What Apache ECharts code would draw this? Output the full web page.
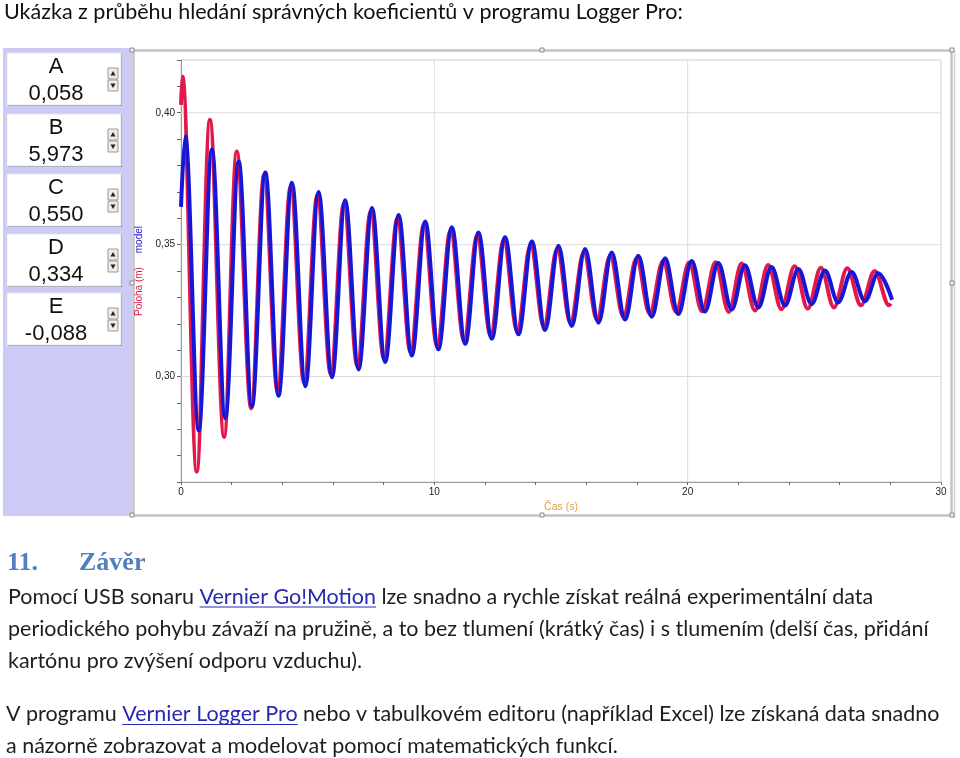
<!DOCTYPE html>
<html><head><meta charset="utf-8">
<script src="https://cdn.jsdelivr.net/npm/echarts@6/dist/echarts.min.js"></script>
<style>html,body{margin:0;padding:0;background:#fff}#c{width:960px;height:758px}</style>
</head><body><div id="c"></div>
<script>
// ---------- data ----------
// measured position (red): extremum points, time (s) and position (m)
const timeRed = [0.00, 0.06, 0.62, 1.14, 1.70, 2.20, 2.77, 3.28, 3.81, 4.33, 4.86, 5.38, 5.91, 6.43, 6.96, 7.49, 8.01, 8.54, 9.06, 9.59, 10.11, 10.64, 11.17, 11.69, 12.22, 12.74, 13.27, 13.80, 14.32, 14.85, 15.37, 15.90, 16.42, 16.94, 17.46, 17.98, 18.50, 19.03, 19.54, 20.06, 20.57, 21.10, 21.62, 22.13, 22.66, 23.18, 23.70, 24.22, 24.74, 25.26, 25.77, 26.30, 26.84, 27.38, 27.95, 28.02];
const posRed = [0.4030, 0.4137, 0.2639, 0.3973, 0.2771, 0.3853, 0.2879, 0.3765, 0.2945, 0.3723, 0.2975, 0.3688, 0.3009, 0.3656, 0.3039, 0.3627, 0.3067, 0.3600, 0.3092, 0.3576, 0.3115, 0.3554, 0.3136, 0.3534, 0.3155, 0.3516, 0.3172, 0.3500, 0.3188, 0.3484, 0.3203, 0.3471, 0.3215, 0.3459, 0.3227, 0.3447, 0.3238, 0.3438, 0.3245, 0.3432, 0.3247, 0.3433, 0.3245, 0.3428, 0.3250, 0.3423, 0.3255, 0.3418, 0.3257, 0.3412, 0.3262, 0.3410, 0.3270, 0.3400, 0.3270, 0.3276];
// model (blue): extremum points
const timeModel = [0.00, 0.17, 0.70, 1.22, 1.75, 2.28, 2.80, 3.33, 3.85, 4.38, 4.91, 5.43, 5.96, 6.48, 7.01, 7.54, 8.06, 8.59, 9.11, 9.64, 10.16, 10.69, 11.22, 11.74, 12.27, 12.79, 13.32, 13.85, 14.37, 14.90, 15.42, 15.95, 16.48, 17.00, 17.53, 18.05, 18.58, 19.11, 19.63, 20.16, 20.68, 21.21, 21.74, 22.26, 22.79, 23.31, 23.84, 24.37, 24.89, 25.42, 25.94, 26.47, 27.00, 27.52, 28.07];
const posModel = [0.3643, 0.3911, 0.2795, 0.3861, 0.2843, 0.3815, 0.2887, 0.3773, 0.2927, 0.3735, 0.2963, 0.3700, 0.2997, 0.3668, 0.3027, 0.3639, 0.3055, 0.3612, 0.3080, 0.3588, 0.3103, 0.3566, 0.3124, 0.3546, 0.3143, 0.3528, 0.3160, 0.3512, 0.3176, 0.3496, 0.3191, 0.3483, 0.3204, 0.3470, 0.3216, 0.3458, 0.3227, 0.3448, 0.3237, 0.3438, 0.3246, 0.3430, 0.3254, 0.3422, 0.3262, 0.3415, 0.3269, 0.3408, 0.3275, 0.3402, 0.3281, 0.3396, 0.3286, 0.3391, 0.3291];
const xTickLabels = [0, 10, 20, 30];
const yTickLabels = [0.30, 0.35, 0.40];
const gridX = [10, 20];
const gridY = [0.30, 0.35, 0.40];
const paramNames = ['A', 'B', 'C', 'D', 'E'];
const paramValues = ['0,058', '5,973', '0,550', '0,334', '-0,088'];

// ---------- text ----------
const titleText = 'Ukázka z průběhu hledání správných koeficientů v programu Logger Pro:';
const headingNum = '11.';
const headingText = 'Závěr';
const bodyLines = [
  [{t: 'Pomocí USB sonaru '}, {t: 'Vernier Go!Motion', link: true}, {t: ' lze snadno a rychle získat reálná experimentální data'}],
  [{t: 'periodického pohybu závaží na pružině, a to bez tlumení (krátký čas) i s tlumením (delší čas, přidání'}],
  [{t: 'kartónu pro zvýšení odporu vzduchu).'}],
  [{t: 'V programu '}, {t: 'Vernier Logger Pro', link: true}, {t: ' nebo v tabulkovém editoru (například Excel) lze získaná data snadno'}],
  [{t: 'a názorně zobrazovat a modelovat pomocí matematických funkcí.'}]
];

// ---------- layout ----------
const RED = '#e3184a', BLUE = '#1616d6', LINK = '#2828b0', TXT = '#1e1e1e';
const FAMILY = 'Lato, "Open Sans", sans-serif';
const cv = document.createElement('canvas').getContext('2d');
function tw(t, f) { cv.font = f; return cv.measureText(t).width; }
function join(segs) { return segs.map(s => s.t).join(''); }

const els = [];
function txt(x, y, text, font, fill, align) {
  els.push({type: 'text', x: x, y: y, silent: true,
    style: {text: text, font: font, fill: fill, align: align || 'left', verticalAlign: 'middle', textAlign: align || 'left', textVerticalAlign: 'middle'}});
}

// left lavender panel
els.push({type: 'rect', shape: {x: 3, y: 48, width: 129, height: 468}, style: {fill: '#cbcbf6'}});
// graph panel border
els.push({type: 'rect', shape: {x: 133.5, y: 50.5, width: 818, height: 465}, style: {fill: 'none', stroke: '#c4c4c4', lineWidth: 2.5}});
els.push({type: 'line', shape: {x1: 954.5, y1: 50, x2: 954.5, y2: 518}, style: {stroke: '#d4d4d4', lineWidth: 1.5}});
// handles
[[132, 50], [542, 50], [952, 50], [132, 283], [952, 283], [132, 515], [542, 515], [952, 515]].forEach(p => {
  els.push({type: 'rect', shape: {x: p[0] - 2, y: p[1] - 2, width: 4, height: 4}, style: {fill: '#f2f2f2', stroke: '#8a8a8a', lineWidth: 1}});
});

// parameter boxes
const boxTops = [53, 114, 174, 234, 293];
paramNames.forEach((n, i) => {
  const top = boxTops[i];
  els.push({type: 'rect', shape: {x: 8, y: top + 1, width: 114, height: 52}, style: {fill: '#7e7e98'}});
  els.push({type: 'rect', shape: {x: 7, y: top, width: 114, height: 52}, style: {fill: '#ffffff', stroke: '#e4e4ee', lineWidth: 1}});
  txt(56, top + 14, n, '22px "Liberation Sans", Arial, sans-serif', '#111', 'center');
  txt(56, top + 41, paramValues[i], '22px "Liberation Sans", Arial, sans-serif', '#111', 'center');
  // spinner
  els.push({type: 'rect', shape: {x: 108, y: top + 15, width: 10, height: 11}, style: {fill: '#ececec', stroke: '#9a9a9a', lineWidth: 1}});
  els.push({type: 'rect', shape: {x: 108, y: top + 27, width: 10, height: 11}, style: {fill: '#ececec', stroke: '#9a9a9a', lineWidth: 1}});
  els.push({type: 'polygon', shape: {points: [[113, top + 18], [110.5, top + 22.5], [115.5, top + 22.5]]}, style: {fill: '#222'}});
  els.push({type: 'polygon', shape: {points: [[110.5, top + 30.5], [115.5, top + 30.5], [113, top + 35]]}, style: {fill: '#222'}});
});

// title line
{
  const fs = 20 * 679 / tw(titleText, '20px ' + FAMILY);
  txt(4, 20 - 0.36 * fs, titleText, fs.toFixed(2) + 'px ' + FAMILY, '#111');
}
// heading
txt(7, 572 - 0.33 * 26, headingNum, 'bold 26px "Liberation Serif", "DejaVu Serif", serif', '#4f81bd');
txt(79, 572 - 0.33 * 26, headingText, 'bold 26px "Liberation Serif", "DejaVu Serif", serif', '#4f81bd');

// body
{
  const fitTargets = [[0, 8, 870], [1, 8, 932], [3, 6, 940]];
  let sum = 0;
  fitTargets.forEach(f => { sum += 20 * (f[2] - f[1]) / tw(join(bodyLines[f[0]]), '20px ' + FAMILY); });
  const fs = sum / fitTargets.length;
  const font = fs.toFixed(2) + 'px ' + FAMILY;
  const lineX = [8, 8, 8, 6, 6];
  const baselines = [604.5, 637, 669, 722, 754];
  bodyLines.forEach((segs, i) => {
    let x = lineX[i];
    const b = baselines[i];
    segs.forEach(s => {
      const w = tw(s.t, font);
      txt(x, b - 0.36 * fs, s.t, font, s.link ? LINK : TXT);
      if (s.link) els.push({type: 'line', shape: {x1: x, y1: b + 2.5, x2: x + w, y2: b + 2.5}, style: {stroke: LINK, lineWidth: 1}});
      x += w;
    });
  });
}

// ---------- chart ----------
const chart = echarts.init(document.getElementById('c'), null, {renderer: 'canvas'});
const AXFONT = '"Liberation Sans", Arial, sans-serif';
const gridSeries = [];
gridY.forEach(v => gridSeries.push({type: 'line', data: [[0, v], [30, v]], symbol: 'none', silent: true, z: 1, lineStyle: {color: '#dcdcdc', width: 1}}));
gridX.forEach(v => gridSeries.push({type: 'line', data: [[v, 0.26], [v, 0.42]], symbol: 'none', silent: true, z: 1, lineStyle: {color: '#dcdcdc', width: 1}}));

chart.setOption({
  animation: false,
  backgroundColor: '#ffffff',
  grid: {left: 181, top: 60, width: 760, height: 422, show: true, borderColor: '#cdcdcd', borderWidth: 1, backgroundColor: '#ffffff'},
  xAxis: {
    type: 'value', min: 0, max: 30, interval: 2,
    axisLine: {show: true, onZero: false, lineStyle: {color: '#9c9c9c', width: 1}},
    axisTick: {show: true, length: 3, lineStyle: {color: '#666'}},
    axisLabel: {color: '#222', fontSize: 10, fontFamily: AXFONT, margin: 5,
      formatter: v => xTickLabels.some(t => Math.abs(t - v) < 1e-9) ? String(v) : ''},
    splitLine: {show: false},
    name: 'Čas (s)', nameLocation: 'middle', nameGap: 19,
    nameTextStyle: {color: '#e6a13c', fontSize: 10.5, fontFamily: AXFONT}
  },
  yAxis: {
    type: 'value', min: 0.26, max: 0.42, interval: 0.01,
    axisLine: {show: true, onZero: false, lineStyle: {color: '#9c9c9c', width: 1}},
    axisTick: {show: true, length: 4, lineStyle: {color: '#666'}},
    axisLabel: {color: '#222', fontSize: 10, fontFamily: AXFONT, margin: 6,
      formatter: v => { const t = yTickLabels.find(t => Math.abs(t - v) < 1e-9); return t === undefined ? '' : t.toFixed(2).replace('.', ','); }},
    splitLine: {show: false},
    name: '{r|Poloha (m)}     {b|model}', nameLocation: 'middle', nameRotate: 90, nameGap: 31,
    nameTextStyle: {fontSize: 10, fontFamily: AXFONT, color: '#444',
      rich: {r: {color: RED, fontSize: 10, fontFamily: AXFONT}, b: {color: BLUE, fontSize: 10, fontFamily: AXFONT}}}
  },
  series: gridSeries.concat([
    {type: 'line', name: 'Poloha (m)', data: timeRed.map((t, i) => [t, posRed[i]]),
      smooth: 0.36, smoothMonotone: 'x', symbol: 'none', z: 3, silent: true,
      lineStyle: {color: RED, width: 4}},
    {type: 'line', name: 'model', data: timeModel.map((t, i) => [t, posModel[i]]),
      smooth: 0.36, smoothMonotone: 'x', symbol: 'none', z: 4, silent: true,
      lineStyle: {color: BLUE, width: 4}}
  ]),
  graphic: {elements: els}
});
</script></body></html>
